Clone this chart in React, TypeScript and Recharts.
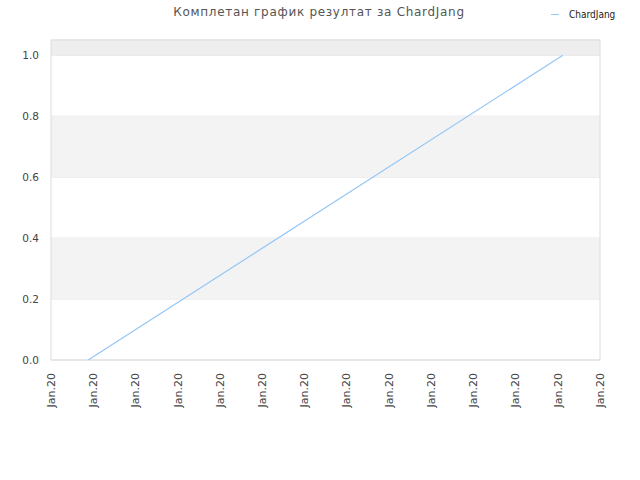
import { LineChart, Line, XAxis, YAxis, CartesianGrid, ReferenceArea } from 'recharts'

const TITLE = 'Комплетан график резултат за ChardJang'
const SERIES = 'ChardJang'

// положаји тачака на временској оси (у корацима између ознака) и резултати
const pointPos = [0.88, 12.12]
const scores = [0, 1]

const xTicks = [0, 1, 2, 3, 4, 5, 6, 7, 8, 9, 10, 11, 12, 13]
const xLabels = xTicks.map(() => 'Jan.20')
const yTicks = [0, 0.2, 0.4, 0.6, 0.8, 1.0]

const rows = pointPos.map((p, i) => ({ t: p, score: scores[i] }))

const FONT = '"DejaVu Sans", sans-serif'
const LINE = '#94c6f5'

const XTick = ({ x, y, index }: any) => (
  <text transform={`translate(${x},${y + 5}) rotate(-90)`} textAnchor="end" dy="0.35em"
    fontSize={11} fill="#444" fontFamily={FONT}>
    {xLabels[index] ?? 'Jan.20'}
  </text>
)

export default function App() {
  return (
    <div style={{ position: 'relative', width: 640, height: 480, background: '#fff' }}>
      <style>{'body{margin:0}'}</style>
      <div style={{ position: 'absolute', top: 5, left: 0, width: 638, textAlign: 'center', fontFamily: FONT, fontSize: 12, color: '#555', letterSpacing: 0.7 }}>
        {TITLE}
      </div>
      <div style={{ position: 'absolute', top: 9, left: 551, display: 'flex', alignItems: 'center', fontFamily: '"DejaVu Sans Condensed", "DejaVu Sans", sans-serif', fontSize: 10, color: '#222' }}>
        <span style={{ display: 'inline-block', width: 8, height: 1, background: LINE, marginRight: 10 }} />
        {SERIES}
      </div>
      <LineChart width={640} height={480} data={rows} margin={{ top: 40, right: 40, left: 0, bottom: 70 }}>
        <ReferenceArea y1={0.2} y2={0.4} fill="#f3f3f3" fillOpacity={1} stroke="none" />
        <ReferenceArea y1={0.6} y2={0.8} fill="#f3f3f3" fillOpacity={1} stroke="none" />
        <ReferenceArea y1={1.0} y2={1.05} fill="#eeeeee" fillOpacity={1} stroke="none" />
        <CartesianGrid vertical={false} stroke="#e3e3e3" />
        <ReferenceArea x1={0} x2={13} y1={0} y2={1.05} fill="none" stroke="#dcdcdc" />
        <XAxis dataKey="t" type="number" domain={[0, 13]} ticks={xTicks} height={50}
          axisLine={false} tickLine={false} tick={<XTick />} interval={0} allowDataOverflow />
        <YAxis domain={[0, 1.05]} ticks={yTicks} width={51} axisLine={false} tickLine={false}
          tickFormatter={(v: number) => v.toFixed(1)} tickMargin={6}
          tick={{ fontSize: 10.5, fill: '#444', fontFamily: FONT }} allowDataOverflow />
        <Line type="linear" dataKey="score" name={SERIES} stroke={LINE} strokeWidth={1.2}
          dot={false} isAnimationActive={false} />
      </LineChart>
    </div>
  )
}
